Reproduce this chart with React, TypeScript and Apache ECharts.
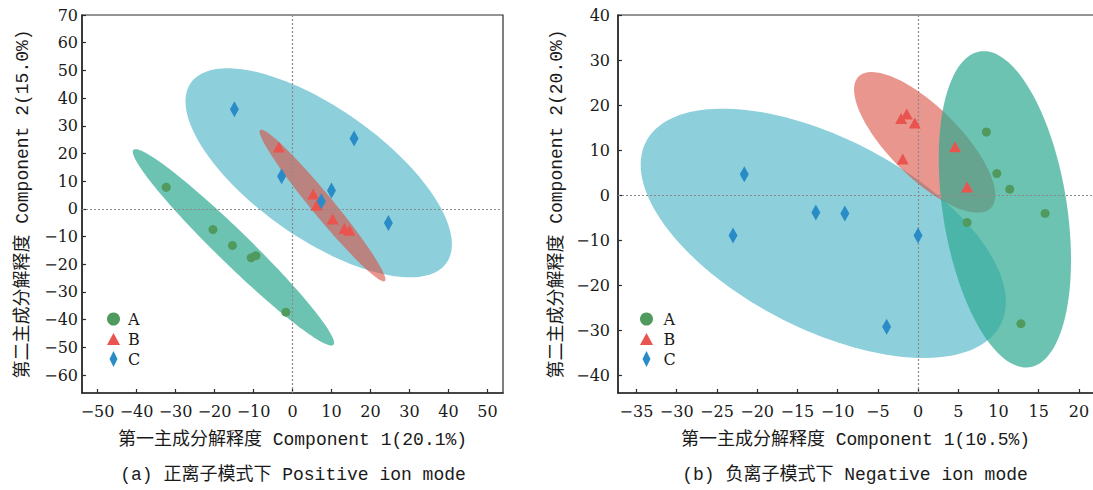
import React, { useEffect, useRef } from 'react';
import * as echarts from 'echarts';

// ---------- data ----------
const groupNames = ['A', 'B', 'C'];

// (a) Positive ion mode: score points [PC1, PC2]
const posA = [[-32.4, 7.8], [-20.4, -7.5], [-15.4, -13.2], [-10.6, -17.7], [-9.4, -16.9], [-1.7, -37.3]];
const posB = [[-3.5, 22.3], [5.3, 5.4], [6.2, 1.3], [10.3, -3.7], [13.3, -7.1], [14.6, -7.7]];
const posC = [[-14.9, 36.0], [-2.8, 11.8], [10.0, 6.6], [7.4, 2.7], [15.8, 25.4], [24.6, -5.1]];
// confidence ellipses [cx, cy, semi-axis1 x, y, semi-axis2 x, y] in data units
const posEllA = [-15.15, -13.9, 25.65, -35.2, 2.95, 4.25];
const posEllB = [7.7, 1.2, 16.0, -27.3, 2.17, 2.52];
const posEllC = [6.72, 13.0, 32.8, -32.5, -9.58, -19.2];

// (b) Negative ion mode
const negA = [[8.5, 14.0], [9.8, 4.75], [11.4, 1.3], [15.8, -4.1], [6.1, -6.1], [12.8, -28.6]];
const negB = [[-1.4, 18.0], [-2.1, 17.0], [-0.4, 16.0], [-1.9, 8.0], [4.6, 10.7], [6.1, 1.8]];
const negC = [[-21.6, 4.6], [-12.7, -3.9], [-9.1, -4.1], [-23.0, -9.0], [0.0, -9.0], [-3.9, -29.3]];
const negEllA = [10.8, -3.18, 3.04, -35.1, -7.64, -1.88];
const negEllB = [0.83, 11.7, 8.14, -14.74, -3.29, -5.18];
const negEllC = [-11.78, -8.51, 21.87, -20.9, -6.09, -18.18];

// tick labels
const posXTicks = [-50, -40, -30, -20, -10, 0, 10, 20, 30, 40, 50];
const posYTicks = [-60, -50, -40, -30, -20, -10, 0, 10, 20, 30, 40, 50, 60, 70];
const negXTicks = [-35, -30, -25, -20, -15, -10, -5, 0, 5, 10, 15, 20];
const negYTicks = [-40, -30, -20, -10, 0, 10, 20, 30, 40];

const posXTitle = '第一主成分解释度 Component 1(20.1%)';
const posYTitle = '第二主成分解释度 Component 2(15.0%)';
const negXTitle = '第一主成分解释度 Component 1(10.5%)';
const negYTitle = '第二主成分解释度 Component 2(20.0%)';
const posCaption = '(a) 正离子模式下 Positive ion mode';
const negCaption = '(b) 负离子模式下 Negative ion mode';

// ---------- styles ----------
const titleFont = "'Liberation Mono', 'Noto Sans CJK SC', monospace";
const tickFont = "'DejaVu Serif', serif";
const axisColor = '#2b2b2b';
const textColor = '#1a1a1a';
const markerColors = ['#4F9A5C', '#EA544F', '#2A8CC6'];
const ellipseColors = ['rgba(45,169,146,0.7)', 'rgba(218,80,67,0.6)', '#8DD0DC'];
const symbols = ['circle', 'triangle', 'diamond'];
const symbolSizes: any[] = [9, [12, 11], [9, 16]];

const fmt = (v: number) => (v < 0 ? '\u2212' + Math.abs(v) : String(v));

function valueAxis(gridIndex: number, min: number, max: number, ticks: number[], name: string, labelMargin: number, nameGap: number, namePad: number[]) {
  return {
    type: 'value',
    gridIndex,
    min,
    max,
    name,
    nameLocation: 'middle',
    nameGap,
    nameTextStyle: { fontFamily: titleFont, fontSize: 18, color: textColor, padding: namePad },
    axisLine: { show: true, onZero: false, lineStyle: { color: axisColor, width: 1.6 } },
    axisTick: { show: true, inside: true, length: 4, customValues: ticks, lineStyle: { color: axisColor, width: 1.2 } },
    axisLabel: { customValues: ticks, fontFamily: tickFont, fontSize: 16, color: textColor, margin: labelMargin, formatter: fmt },
    splitLine: { show: false },
  };
}

function ellipseSeries(id: string, params: number[], axisIndex: number, color: string) {
  return {
    type: 'custom',
    name: id,
    xAxisIndex: axisIndex,
    yAxisIndex: axisIndex,
    silent: true,
    z: 2,
    data: [params],
    encode: { x: 0, y: 1 },
    renderItem: (_p: any, api: any) => {
      const cx = api.value(0), cy = api.value(1);
      const ux = api.value(2), uy = api.value(3);
      const vx = api.value(4), vy = api.value(5);
      const pts: number[][] = [];
      const n = 144;
      for (let i = 0; i < n; i++) {
        const t = (i / n) * Math.PI * 2;
        pts.push(api.coord([cx + ux * Math.cos(t) + vx * Math.sin(t), cy + uy * Math.cos(t) + vy * Math.sin(t)]));
      }
      return { type: 'polygon', shape: { points: pts }, style: { fill: color } };
    },
  };
}

const zeroLines = {
  silent: true,
  symbol: ['none', 'none'],
  label: { show: false },
  lineStyle: { color: '#8a8a8a', type: [2, 2], width: 1.2 },
  data: [{ xAxis: 0 }, { yAxis: 0 }],
};

function scatterSeries(gi: number, axisIndex: number, data: number[][], withLines: boolean) {
  const s: any = {
    type: 'scatter',
    name: groupNames[gi],
    xAxisIndex: axisIndex,
    yAxisIndex: axisIndex,
    data,
    symbol: symbols[gi],
    symbolSize: symbolSizes[gi],
    itemStyle: { color: markerColors[gi], opacity: 1 },
    z: 6,
  };
  if (withLines) s.markLine = zeroLines;
  return s;
}

function legendItem(gi: number, cx: number, cy: number, textOffset: number) {
  const sizes = [[13, 13], [13, 12], [8, 16]];
  const [w, h] = sizes[gi];
  const left = cx - w / 2;
  const pad = cx + textOffset - (left + w + 5);
  return {
    data: [{ name: groupNames[gi], icon: symbols[gi] }],
    left,
    top: cy - 8,
    padding: 0,
    itemWidth: w,
    itemHeight: h,
    selectedMode: false,
    textStyle: { fontFamily: tickFont, fontSize: 16, color: textColor, padding: [0, 0, 0, pad] },
  };
}

const option: any = {
  animation: false,
  backgroundColor: '#ffffff',
  grid: [
    { left: 82, top: 15, width: 421, height: 378, show: true, borderColor: axisColor, borderWidth: 1.2 },
    { left: 618, top: 15, width: 485, height: 378, show: true, borderColor: axisColor, borderWidth: 1.2 },
  ],
  xAxis: [
    valueAxis(0, -54, 54, posXTicks, posXTitle, 10, 38, [0, 0, 0, 0]),
    valueAxis(1, -37.3, 23, negXTicks, negXTitle, 10, 38, [0, 10, 0, 0]),
  ],
  yAxis: [
    valueAxis(0, -66.5, 70, posYTicks, posYTitle, 4, 50, [0, 0, 0, 0]),
    valueAxis(1, -44, 40, negYTicks, negYTitle, 8, 52, [0, 0, 0, 0]),
  ],
  legend: [
    legendItem(0, 113.5, 319, 14.6),
    legendItem(1, 113.5, 339, 14.6),
    legendItem(2, 113.5, 359, 14.6),
    legendItem(0, 646.5, 319, 17),
    legendItem(1, 646.5, 339, 17),
    legendItem(2, 646.5, 359, 17),
  ],
  graphic: [
    { type: 'text', x: 293, y: 475, style: { text: posCaption, fontFamily: titleFont, fontSize: 18, fill: textColor, align: 'center', verticalAlign: 'middle' } },
    { type: 'text', x: 855, y: 475, style: { text: negCaption, fontFamily: titleFont, fontSize: 18, fill: textColor, align: 'center', verticalAlign: 'middle' } },
  ],
  series: [
    ellipseSeries('ellC-pos', posEllC, 0, ellipseColors[2]),
    ellipseSeries('ellB-pos', posEllB, 0, ellipseColors[1]),
    ellipseSeries('ellA-pos', posEllA, 0, ellipseColors[0]),
    ellipseSeries('ellC-neg', negEllC, 1, ellipseColors[2]),
    ellipseSeries('ellB-neg', negEllB, 1, ellipseColors[1]),
    ellipseSeries('ellA-neg', negEllA, 1, ellipseColors[0]),
    scatterSeries(0, 0, posA, true),
    scatterSeries(1, 0, posB, false),
    scatterSeries(2, 0, posC, false),
    scatterSeries(0, 1, negA, true),
    scatterSeries(1, 1, negB, false),
    scatterSeries(2, 1, negC, false),
  ],
};

export default function App() {
  const ref = useRef<HTMLDivElement>(null);
  useEffect(() => {
    const chart = echarts.init(ref.current as HTMLDivElement, null, { renderer: 'svg' });
    chart.setOption(option);
    return () => chart.dispose();
  }, []);
  return (
    <div style={{ position: 'fixed', left: 0, top: 0, width: 1093, height: 490, overflow: 'hidden', background: '#ffffff' }}>
      <div ref={ref} style={{ position: 'absolute', left: 0, top: 0, width: 1110, height: 490 }} />
    </div>
  );
}
